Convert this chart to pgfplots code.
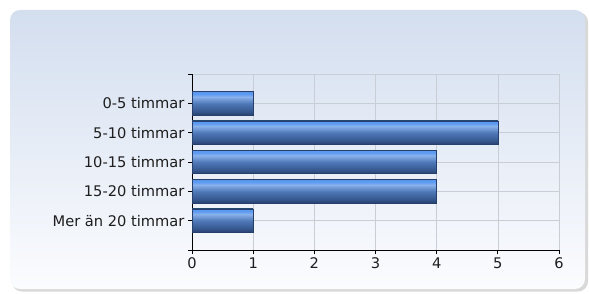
\documentclass[border=0pt]{standalone}
\usepackage{fontspec}
\setmainfont{DejaVu Sans}
\usepackage{pgfplots}
\pgfplotsset{compat=1.18}
\definecolor{panTop}{HTML}{D3DEEF}
\definecolor{panBot}{HTML}{FBFCFE}
\definecolor{gridc}{HTML}{C9CDD6}
\definecolor{txt}{HTML}{1E1E1E}
\definecolor{bdark}{HTML}{26406B}
\definecolor{b0}{HTML}{283F6B}
\definecolor{b1}{HTML}{34558C}
\definecolor{b2}{HTML}{4F79B8}
\definecolor{b3}{HTML}{8AB3EC}
\definecolor{b4}{HTML}{5C9AF2}
\definecolor{b5}{HTML}{4A7FC8}
\pgfdeclareverticalshading{barshade}{100bp}{color(0bp)=(b0); color(25bp)=(b0); color(32bp)=(b1); color(50bp)=(b2); color(64bp)=(b3); color(70bp)=(b4); color(74bp)=(b4); color(75bp)=(b5); color(100bp)=(b5)}
\pgfplotsset{barst/.style={draw=bdark, line width=0.6bp, shading=barshade}}
\begin{document}
\begin{tikzpicture}[x=1bp,y=1bp]
\useasboundingbox (0,0) rectangle (589,293);
\fill[white] (0,0) rectangle (589,293);
\fill[black!15, rounded corners=10bp] (12,1.5) rectangle (588,281);
\shade[top color=panTop, bottom color=panBot, rounded corners=10bp] (10,4) rectangle (585,283);
\begin{axis}[
  at={(192bp,43bp)}, anchor=south west,
  scale only axis, width=367bp, height=176bp,
  xmin=0, xmax=6, ymin=0, ymax=6,
  xtick={0,...,6}, ytick={0,...,6},
  yticklabels={,Mer än 20 timmar,15-20 timmar,10-15 timmar,5-10 timmar,0-5 timmar,},
  axis x line*=bottom, axis y line*=left,
  grid=major, grid style={gridc, line width=0.6bp},
  tick align=outside, major tick length=4bp,
  tick style={black, line width=0.8bp},
  axis line style={black, line width=0.9bp, -},
  xbar, bar width=0.8, /pgf/bar shift=0pt,
  ticklabel style={font=\fontsize{14.7}{17}\selectfont, text=txt},
  /pgf/number format/assume math mode=true,
  clip=false,
]
\addplot[barst] coordinates {(1,5)};
\addplot[barst] coordinates {(5,4)};
\addplot[barst] coordinates {(4,3)};
\addplot[barst] coordinates {(4,2)};
\addplot[barst] coordinates {(1,1)};
\end{axis}
\end{tikzpicture}
\end{document}
